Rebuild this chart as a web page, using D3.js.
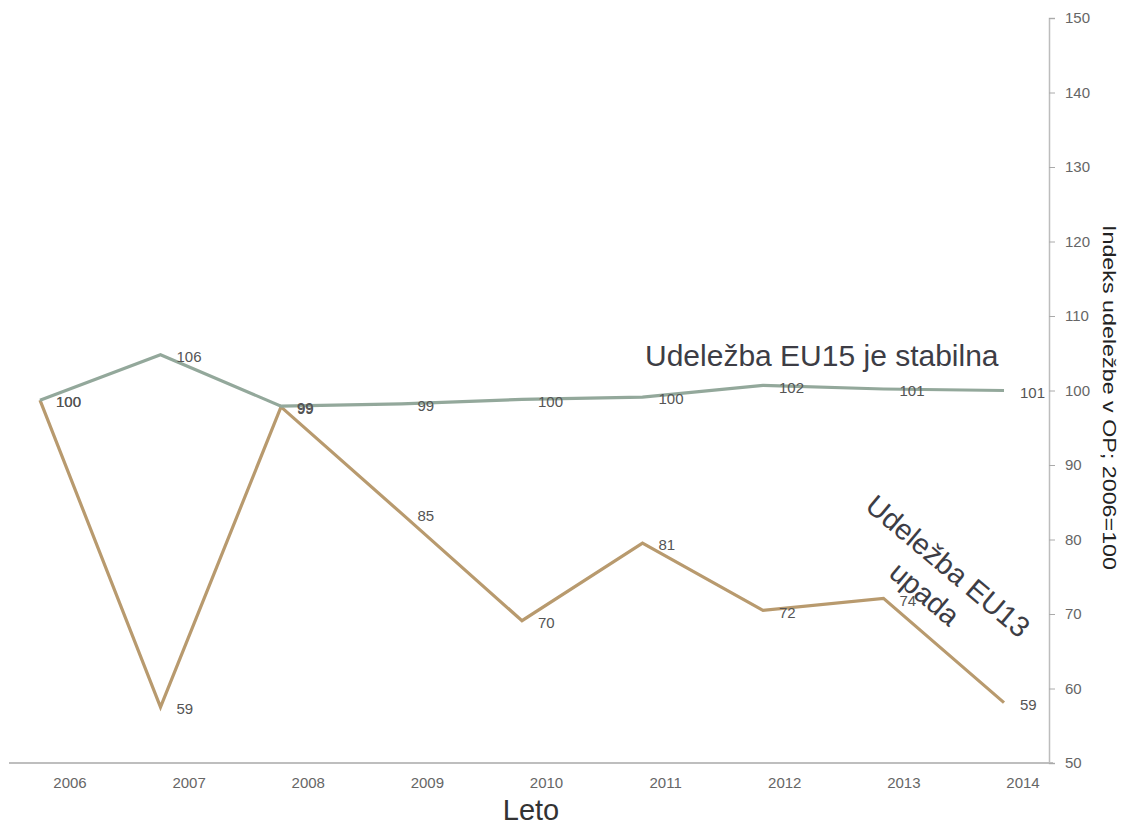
<!DOCTYPE html>
<html>
<head>
<meta charset="utf-8">
<script src="https://cdn.jsdelivr.net/npm/d3@7"></script>
<style>
  html, body { margin: 0; padding: 0; background: #fff; }
  svg { display: block; font-family: "Liberation Sans", Arial, sans-serif; }
</style>
</head>
<body>
<svg id="chart" width="1124" height="827"></svg>
<script>
// Years on the x axis.
const years = ['2006', '2007', '2008', '2009', '2010', '2011', '2012', '2013', '2014'];

// Plotted index values.
const eu15 = [98.7, 104.8, 97.9, 98.2, 98.8, 99.1, 100.7, 100.2, 100.0];
const eu13 = [98.7, 57.5, 97.8, 83.5, 69.1, 79.5, 70.5, 72.1, 58.1];

// Value labels as printed next to each point.
const eu15Labels = ['100', '106', '99', '99', '100', '100', '102', '101', '101'];
const eu13Labels = ['100', '59', '99', '85', '70', '81', '72', '74', '59'];

const yTicks = [50, 60, 70, 80, 90, 100, 110, 120, 130, 140, 150];

const svg = d3.select('#chart');

// Points and year labels sit on slightly different grids in the original.
const x = d3.scalePoint().domain(years).range([40, 1004]);
const xLabel = d3.scalePoint().domain(years).range([70, 1023]);
const y = d3.scaleLinear().domain([50, 150]).range([763, 18]);

// x axis baseline
svg.append('line')
    .attr('x1', 9).attr('x2', 1053)
    .attr('y1', y(50)).attr('y2', y(50))
    .attr('stroke', '#a8a8a8').attr('stroke-width', 1.5);

svg.append('g').selectAll('text')
    .data(years)
    .join('text')
    .attr('x', d => xLabel(d))
    .attr('y', 783)
    .attr('dy', '0.35em')
    .attr('text-anchor', 'middle')
    .attr('font-size', 15)
    .attr('fill', '#666')
    .text(d => d);

// right-hand y axis
const yAxis = svg.append('g')
    .attr('transform', 'translate(1049,0)')
    .call(d3.axisRight(y).tickValues(yTicks).tickSize(6).tickPadding(10));
yAxis.select('.domain').attr('stroke', '#bdbdbd').attr('stroke-width', 1.5);
yAxis.selectAll('.tick line').attr('stroke', '#aaa');
yAxis.selectAll('.tick text')
    .attr('font-size', 15)
    .attr('font-family', '"Liberation Sans", Arial, sans-serif')
    .attr('fill', '#666');

// axis titles
svg.append('text')
    .attr('transform', 'translate(1103,225) rotate(90)')
    .attr('font-size', 18)
    .attr('fill', '#222')
    .attr('textLength', 345)
    .attr('lengthAdjust', 'spacingAndGlyphs')
    .text('Indeks udeležbe v OP; 2006=100');

svg.append('text')
    .attr('x', 531).attr('y', 820)
    .attr('text-anchor', 'middle')
    .attr('font-size', 29)
    .attr('fill', '#333')
    .text('Leto');

// series lines
const line = d3.line()
    .x((d, i) => x(years[i]))
    .y(d => y(d));

const series = [
  {values: eu13, labels: eu13Labels, color: '#b89a6e'},
  {values: eu15, labels: eu15Labels, color: '#93a89b'},
];

series.forEach(s => {
  svg.append('path')
      .datum(s.values)
      .attr('fill', 'none')
      .attr('stroke', s.color)
      .attr('stroke-width', 3.2)
      .attr('stroke-linejoin', 'miter')
      .attr('d', line);
});

series.forEach(s => {
  svg.append('g').selectAll('text')
      .data(s.values)
      .join('text')
      .attr('x', (d, i) => x(years[i]) + 16)
      .attr('y', d => y(d) + 2)
      .attr('dy', '0.35em')
      .attr('font-size', 15)
      .attr('fill', '#555')
      .text((d, i) => s.labels[i]);
});

// annotations
svg.append('text')
    .attr('x', 645).attr('y', 366)
    .attr('font-size', 30)
    .attr('fill', '#3d3d45')
    .text('Udeležba EU15 je stabilna');

const note13 = svg.append('g')
    .attr('transform', 'translate(948,566) rotate(40)');
note13.selectAll('text')
    .data(['Udeležba EU13', 'upada'])
    .join('text')
    .attr('x', 0)
    .attr('y', (d, i) => i * 36)
    .attr('dy', '0.35em')
    .attr('text-anchor', 'middle')
    .attr('font-size', 29)
    .attr('fill', '#3d3d45')
    .text(d => d);
</script>
</body>
</html>
